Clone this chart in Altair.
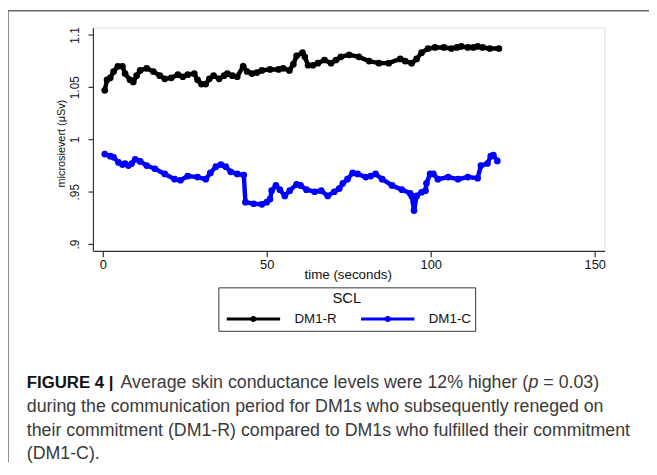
import altair as alt
import pandas as pd

series_names = ["DM1-R", "DM1-C"]
series_colors = ["#000000", "#0000ff"]

r_time = [0.6, 1.3, 2.3, 3.3, 4.6, 6.0, 6.8, 8.3, 9.3, 10.3, 11.4, 13.4, 15.4, 17.4, 18.9,
          20.9, 22.9, 24.4, 25.9, 27.9, 28.9, 30.1, 31.4, 32.5, 33.8, 35.5, 37.0, 38.0, 39.5,
          41.0, 42.8, 44.0, 45.5, 47.0, 48.5, 51.0, 53.6, 55.0, 56.9, 58.1, 59.1, 60.9, 61.6,
          62.6, 64.1, 65.6, 67.6, 69.6, 71.1, 72.6, 75.1, 78.1, 81.2, 84.2, 87.2, 90.7, 92.2,
          94.2, 95.7, 97.2, 99.2, 101.3, 104.0, 106.3, 108.0, 109.3, 111.3, 113.0, 114.3,
          115.8, 118.0, 120.8]
r_scl = [1.047, 1.057, 1.059, 1.065, 1.070, 1.070, 1.063, 1.057, 1.055, 1.061, 1.066, 1.068,
         1.065, 1.061, 1.058, 1.059, 1.062, 1.060, 1.062, 1.063, 1.057, 1.053, 1.053, 1.058,
         1.061, 1.058, 1.061, 1.063, 1.061, 1.060, 1.070, 1.065, 1.063, 1.064, 1.066, 1.067,
         1.067, 1.068, 1.066, 1.072, 1.080, 1.083, 1.079, 1.071, 1.071, 1.073, 1.076, 1.073,
         1.076, 1.079, 1.081, 1.079, 1.075, 1.073, 1.073, 1.077, 1.075, 1.073, 1.077, 1.083,
         1.087, 1.088, 1.088, 1.087, 1.088, 1.089, 1.088, 1.088, 1.089, 1.088, 1.087, 1.087]

c_time = [0.6, 2.3, 3.3, 4.8, 6.0, 6.8, 7.8, 8.8, 9.9, 11.4, 13.4, 15.9, 18.9, 21.9, 23.7,
          25.9, 28.9, 31.4, 32.8, 34.5, 36.0, 37.5, 39.0, 41.0, 43.0, 43.5, 46.0, 48.5, 50.0,
          51.0, 51.5, 52.8, 54.0, 55.5, 57.0, 59.1, 60.3, 62.1, 64.6, 66.6, 68.6, 70.6, 72.1,
          73.2, 74.6, 76.2, 77.7, 80.2, 81.7, 83.2, 85.2, 88.2, 91.2, 93.7, 94.2, 94.9, 95.7,
          97.2, 98.4, 98.7, 99.8, 100.8, 102.2, 105.3, 108.3, 111.3, 114.3, 115.3, 117.3,
          118.3, 119.1, 120.3]
c_scl = [0.986, 0.984, 0.983, 0.978, 0.976, 0.977, 0.975, 0.977, 0.981, 0.979, 0.975, 0.972,
         0.967, 0.962, 0.961, 0.965, 0.964, 0.962, 0.968, 0.974, 0.976, 0.974, 0.969, 0.967,
         0.966, 0.940, 0.9385, 0.938, 0.940, 0.943, 0.951, 0.956, 0.952, 0.946, 0.951, 0.957,
         0.956, 0.952, 0.950, 0.951, 0.946, 0.950, 0.953, 0.958, 0.962, 0.968, 0.967, 0.964,
         0.965, 0.967, 0.962, 0.956, 0.952, 0.9485, 0.946, 0.932, 0.946, 0.9495, 0.951,
         0.958, 0.967, 0.967, 0.962, 0.964, 0.962, 0.964, 0.963, 0.975, 0.977, 0.984, 0.985,
         0.9795]

x_ticks = [0, 50, 100, 150]
y_ticks = [0.9, 0.95, 1.0, 1.05, 1.1]

x_title = "time (seconds)"
y_title = "microsievert (\u03bcSv)"
legend_title = "SCL"

cap_label = "FIGURE 4 |"
cap_line1a = "Average skin conductance levels were 12% higher ("
cap_line1p = "p"
cap_line1b = "= 0.03)"
cap_lines = [
    "during the communication period for DM1s who subsequently reneged on",
    "their commitment (DM1-R) compared to DM1s who fulfilled their commitment",
    "(DM1-C).",
]

df = pd.concat([
    pd.DataFrame({"time": r_time, "scl": r_scl, "series": series_names[0]}),
    pd.DataFrame({"time": c_time, "scl": c_scl, "series": series_names[1]}),
])
one = pd.DataFrame({"k": [0]})

W, H = 518, 226
FONT = "Liberation Sans"

lines = alt.Chart(df).mark_line(
    strokeWidth=4.5,
    point=alt.OverlayMarkDef(filled=True, size=46, opacity=1),
).encode(
    x=alt.X("time:Q",
            scale=alt.Scale(domain=[-3, 153], nice=False, zero=False),
            axis=alt.Axis(values=x_ticks, format="d", grid=False, tickSize=6,
                          tickColor="#333", domainColor="#333", domainWidth=1.2,
                          tickWidth=1.2, labelFont=FONT, labelFontSize=13,
                          labelColor="#111", labelPadding=2, title=x_title,
                          titleFont=FONT, titleFontSize=13.5, titleFontWeight="normal",
                          titleColor="#111", titleX=258, titleY=24,
                          titleBaseline="middle", titleAlign="center")),
    y=alt.Y("scl:Q",
            scale=alt.Scale(domain=[0.8935, 1.107], nice=False, zero=False),
            axis=alt.Axis(values=y_ticks,
                          labelExpr="replace(format(datum.value, '.2~f'), '0.', '.')",
                          grid=False, tickSize=5, tickColor="#333", domainColor="#333",
                          domainWidth=1.2, tickWidth=1.2, labelAngle=270,
                          labelAlign="center", labelBaseline="bottom", labelPadding=7,
                          labelFont=FONT, labelFontSize=12, labelColor="#111",
                          title=y_title, titleFont=FONT, titleFontSize=11,
                          titleFontWeight="normal", titleColor="#111", titleAngle=270,
                          titleX=-32, titleY=117, titleAlign="center",
                          titleBaseline="middle")),
    color=alt.Color("series:N",
                    scale=alt.Scale(domain=series_names, range=series_colors),
                    legend=alt.Legend(
                        title=legend_title, orient="none", legendX=127, legendY=263,
                        direction="horizontal", columns=2, padding=4,
                        strokeColor="#333", titleAnchor="middle", titleFont=FONT,
                        titleFontSize=15, titleFontWeight="normal", titleColor="#111",
                        titlePadding=2, labelFont=FONT, labelFontSize=13.5,
                        labelColor="#111",
                        symbolType="M-3,0H3M-0.17,0A0.17,0.17,0,1,0,0.17,0A0.17,0.17,0,1,0,-0.17,0Z",
                        symbolSize=324, symbolStrokeWidth=3, symbolOffset=21,
                        labelOffset=31, columnPadding=18)),
)

frame_top = alt.Chart(one).mark_rule(color="#666", strokeWidth=1.5).encode(
    x=alt.value(-86), x2=alt.value(563), y=alt.value(-17))
frame_left = alt.Chart(one).mark_rule(color="#666", strokeWidth=1.5).encode(
    x=alt.value(-86), y=alt.value(-17), y2=alt.value(440))

cap_font = 18
cap_color = "#3a3a3a"
cap_y = 360
cap1 = alt.Chart(one).mark_text(font=FONT, fontSize=17, fontWeight="bold",
                                color="#111", align="left", baseline="middle").encode(
    x=alt.value(-67), y=alt.value(cap_y), text=alt.value(cap_label))
cap1a = alt.Chart(one).mark_text(font=FONT, fontSize=cap_font, color=cap_color,
                                 align="left", baseline="middle").encode(
    x=alt.value(28), y=alt.value(cap_y), text=alt.value(cap_line1a))
cap1p = alt.Chart(one).mark_text(font=FONT, fontSize=cap_font, fontStyle="italic",
                                 color=cap_color, align="left", baseline="middle").encode(
    x=alt.value(441), y=alt.value(cap_y), text=alt.value(cap_line1p))
cap1b = alt.Chart(one).mark_text(font=FONT, fontSize=cap_font, color=cap_color,
                                 align="left", baseline="middle").encode(
    x=alt.value(456), y=alt.value(cap_y), text=alt.value(cap_line1b))
cap_rest = [
    alt.Chart(one).mark_text(font=FONT, fontSize=cap_font, color=cap_color,
                             align="left", baseline="middle").encode(
        x=alt.value(-67), y=alt.value(cap_y + 24 * (i + 1)), text=alt.value(t))
    for i, t in enumerate(cap_lines)
]

chart = alt.layer(frame_top, frame_left, lines, cap1, cap1a, cap1p, cap1b, *cap_rest).properties(
    width=W, height=H,
    autosize=alt.AutoSizeParams(type="none"),
    padding={"left": 86, "top": 17, "right": 45, "bottom": 212},
).configure_view(strokeWidth=0).configure(background="white")

chart.save("out.html", embed_options={"renderer": "svg", "actions": False})
